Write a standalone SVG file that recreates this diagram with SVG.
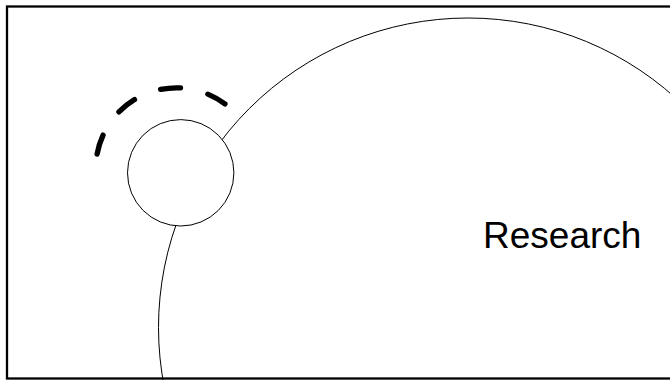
<svg xmlns="http://www.w3.org/2000/svg" width="670" height="380" viewBox="0 0 670 380">
  <style>
    .frame { fill: none; stroke: #000000; stroke-width: 2.3; }
    .node { fill: #ffffff; stroke: #000000; stroke-width: 1; }
    .dash { fill: none; stroke: #000000; stroke-width: 5.3; stroke-linecap: round; stroke-dasharray: 20 28.1; }
    .label { font-family: "Liberation Sans", Arial, sans-serif; font-size: 37px; fill: #000000; }
  </style>
  <rect x="0" y="0" width="670" height="380" fill="#ffffff"/>
  <g id="research">
    <circle class="node" cx="468" cy="327.5" r="309.5"/>
    <text class="label" x="483" y="248">Research</text>
  </g>
  <g id="small-node">
    <circle class="node" cx="180.7" cy="172.8" r="53.2"/>
  </g>
  <g id="connectors">
    <path class="dash" d="M 97.1 154.07 A 80.7 80.7 0 0 1 224.95 103.97"/>
  </g>
  <rect class="frame" x="7" y="6.5" width="720" height="372"/>
</svg>
